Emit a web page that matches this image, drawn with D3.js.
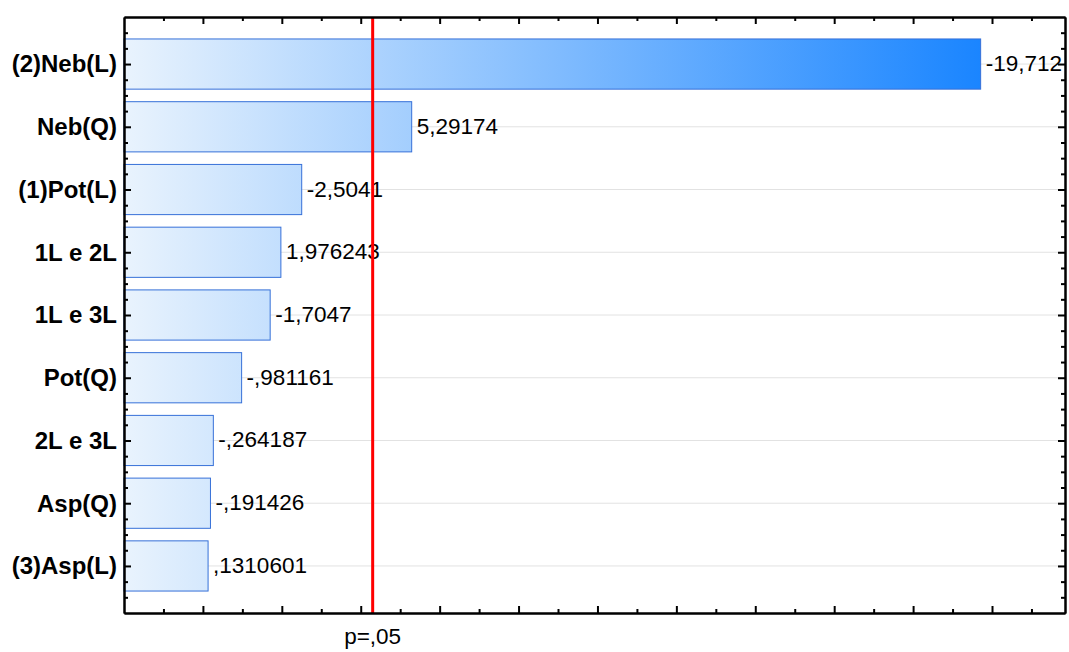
<!DOCTYPE html>
<html>
<head>
<meta charset="utf-8">
<script src="https://cdn.jsdelivr.net/npm/d3@7"></script>
<style>
  html, body { margin: 0; padding: 0; background: #fff; }
  svg { display: block; }
</style>
</head>
<body>
<svg id="chart" width="1069" height="652"></svg>
<script>
// Pareto chart of standardized effects (t-values), p = .05 reference line
const categories = ["(2)Neb(L)", "Neb(Q)", "(1)Pot(L)", "1L e 2L", "1L e 3L", "Pot(Q)", "2L e 3L", "Asp(Q)", "(3)Asp(L)"];
const effects = [-19.712, 5.29174, -2.5041, 1.976243, -1.7047, -0.981161, -0.264187, -0.191426, 0.1310601];
const criticalT = 4.302653;        // t(0.975; df = 2)
const criticalLabel = "p=,05";
const xMajorTicks = [0, 2, 4, 6, 8, 10, 12, 14, 16, 18, 20];
const xMinorTicks = [-1, 1, 3, 5, 7, 9, 11, 13, 15, 17, 19, 21];

const svg = d3.select("#chart");
const plot = { left: 124, top: 17, right: 1065, bottom: 613 };

const x = d3.scaleLinear().domain([-2, 21.85]).range([plot.left, plot.right]);
const y = d3.scaleLinear().domain([0.25, 9.75]).range([plot.top, plot.bottom]);

const yMajor = d3.range(1, categories.length + 1);
const yMinor = d3.range(0.5, 9.75, 0.25).filter(v => v % 1 !== 0);

// Statistica-style number text: comma decimal, no leading zero
const fmt = v => String(v).replace(/^(-?)0\./, "$1.").replace(".", ",");

// Gradient shared by all bars, spanning the longest bar
const defs = svg.append("defs");
const grad = defs.append("linearGradient")
  .attr("id", "barGrad")
  .attr("gradientUnits", "userSpaceOnUse")
  .attr("x1", x.range()[0]).attr("x2", x(d3.max(effects, Math.abs)))
  .attr("y1", 0).attr("y2", 0);
grad.append("stop").attr("offset", 0).attr("stop-color", "#e9f3fd");
grad.append("stop").attr("offset", 1).attr("stop-color", "#1a85ff");

// Horizontal grid lines at each effect
svg.append("g")
  .selectAll("line")
  .data(yMajor)
  .join("line")
  .attr("x1", plot.left).attr("x2", plot.right)
  .attr("y1", d => y(d)).attr("y2", d => y(d))
  .attr("stroke", "#e2e2e2").attr("stroke-width", 1);

// Bars (absolute t-values), starting at the axis minimum
const rows = categories.map((c, i) => ({ name: c, value: effects[i], pos: i + 1 }));
const x0 = x.domain()[0];
svg.append("g")
  .selectAll("rect")
  .data(rows)
  .join("rect")
  .attr("x", x(x0))
  .attr("y", d => y(d.pos - 0.4))
  .attr("width", d => x(Math.abs(d.value)) - x(x0))
  .attr("height", d => y(d.pos + 0.4) - y(d.pos - 0.4))
  .attr("fill", "url(#barGrad)")
  .attr("stroke", "#3670d8")
  .attr("stroke-width", 1);

// Value labels
svg.append("g")
  .selectAll("text")
  .data(rows)
  .join("text")
  .attr("x", d => x(Math.abs(d.value)) + 5)
  .attr("y", d => y(d.pos))
  .attr("dy", "0.31em")
  .attr("font-family", "Liberation Sans, Arial, sans-serif")
  .attr("font-size", 22.5)
  .attr("fill", "#000")
  .text(d => fmt(d.value));

// Critical value line
svg.append("line")
  .attr("x1", x(criticalT)).attr("x2", x(criticalT))
  .attr("y1", plot.top).attr("y2", plot.bottom)
  .attr("stroke", "#ff0000").attr("stroke-width", 3);

svg.append("text")
  .attr("x", x(criticalT)).attr("y", 644)
  .attr("text-anchor", "middle")
  .attr("font-family", "Liberation Sans, Arial, sans-serif")
  .attr("font-size", 22.5)
  .text(criticalLabel);

// Frame axes with inward ticks
function styleAxis(g) {
  g.select(".domain").attr("stroke", "#000").attr("stroke-width", 2);
  g.selectAll(".tick line").attr("stroke", "#000").attr("stroke-width", 2);
  g.selectAll(".tick text").remove();
}
function addAxis(axisFn, scale, ticks, size, transform) {
  svg.append("g")
    .attr("transform", transform)
    .call(axisFn(scale).tickValues(ticks).tickSizeInner(-size).tickSizeOuter(0).tickFormat(""))
    .call(styleAxis);
}
// bottom
addAxis(d3.axisBottom, x, xMinorTicks, 4, `translate(0,${plot.bottom})`);
addAxis(d3.axisBottom, x, xMajorTicks, 7, `translate(0,${plot.bottom})`);
// top
addAxis(d3.axisTop, x, xMinorTicks, 4, `translate(0,${plot.top})`);
addAxis(d3.axisTop, x, xMajorTicks, 7, `translate(0,${plot.top})`);
// left
addAxis(d3.axisLeft, y, yMinor, 4, `translate(${plot.left},0)`);
addAxis(d3.axisLeft, y, yMajor, 7, `translate(${plot.left},0)`);
// right
addAxis(d3.axisRight, y, yMinor, 4, `translate(${plot.right},0)`);
addAxis(d3.axisRight, y, yMajor, 7, `translate(${plot.right},0)`);

// Category labels
svg.append("g")
  .selectAll("text")
  .data(rows)
  .join("text")
  .attr("x", 117)
  .attr("y", d => y(d.pos))
  .attr("dy", "0.35em")
  .attr("text-anchor", "end")
  .attr("font-family", "Liberation Sans, Arial, sans-serif")
  .attr("font-weight", "bold")
  .attr("font-size", 24)
  .attr("fill", "#000")
  .text(d => d.name);
</script>
</body>
</html>
